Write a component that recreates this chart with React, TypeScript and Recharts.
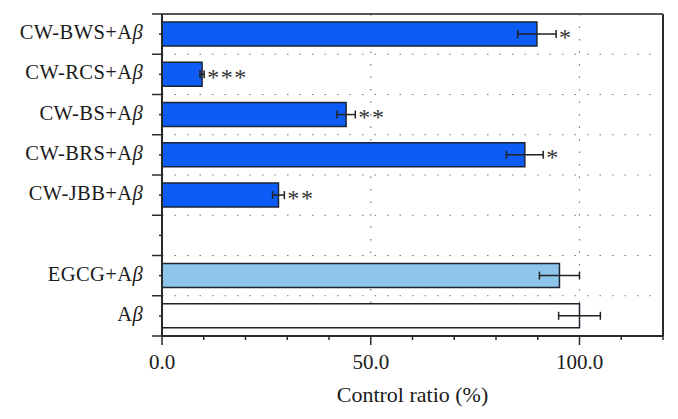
import React from "react";
import { BarChart, Bar, XAxis, YAxis, CartesianGrid, ErrorBar, LabelList, Cell, ReferenceLine } from "recharts";

const categories = ["CW-BWS+Aβ", "CW-RCS+Aβ", "CW-BS+Aβ", "CW-BRS+Aβ", "CW-JBB+Aβ", "", "EGCG+Aβ", "Aβ"];
const values: (number | null)[] = [89.8, 9.6, 44.1, 86.9, 27.9, null, 95.2, 100];
const errors: (number | null)[] = [4.6, 0.5, 2.2, 4.4, 1.4, null, 4.8, 5.0];
const stars = ["*", "***", "**", "*", "**", "", "", ""];
const groups = ["extract", "extract", "extract", "extract", "extract", "none", "positive", "control"];
const xTicks = [0, 10, 20, 30, 40, 50, 60, 70, 80, 90, 100, 110, 120];
const xLabeledTicks = [0, 50, 100];
const xGridValues = [50, 100];
const X_MAX = 120;

const groupFill: Record<string, string> = {
  extract: "#0d5cf5",
  positive: "#8ec5ea",
  control: "#ffffff",
  none: "none",
};

const data = categories.map((name, i) => ({
  name,
  value: values[i],
  err: errors[i],
  stars: stars[i],
  group: groups[i],
}));

const FONT = "'Liberation Serif', 'Times New Roman', serif";
const AXIS = "#2a2a2a";

const XTick = (props: any) => {
  const { x, y, payload } = props;
  const v = payload.value;
  const major = xLabeledTicks.includes(v);
  return (
    <g>
      <line x1={x} x2={x} y1={y} y2={y + (major ? 9 : 4)} stroke={AXIS} strokeWidth={1.5} />
      {major && (
        <text x={x} y={y + 33} textAnchor="middle" fontFamily={FONT} fontSize={21} fill="#1a1a1a">
          {v.toFixed(1)}
        </text>
      )}
    </g>
  );
};

const YTick = (props: any) => {
  const { x, y, payload, index } = props;
  const half = payload.offset || 0;
  const label: string = payload.value;
  const hasBeta = label.endsWith("β");
  const main = hasBeta ? label.slice(0, -1) : label;
  const isLast = index === categories.length - 1;
  return (
    <g>
      <line x1={x - 3} x2={x} y1={y} y2={y} stroke={AXIS} strokeWidth={1.5} />
      <line x1={x - 10} x2={x} y1={y - half} y2={y - half} stroke={AXIS} strokeWidth={1.5} />
      {isLast && <line x1={x - 10} x2={x} y1={y + half} y2={y + half} stroke={AXIS} strokeWidth={1.5} />}
      {label && (
        <text x={x - 19} y={y + 5} textAnchor="end" fontFamily={FONT} fontSize={20.5} letterSpacing={0.4} fill="#1a1a1a">
          {main}
          {hasBeta && <tspan fontStyle="italic">β</tspan>}
        </text>
      )}
    </g>
  );
};

const StarLabel = (props: any) => {
  const { x, y, width, height, index } = props;
  const d = data[index];
  if (!d || !d.stars || d.value == null || d.err == null) return null;
  const endX = x + (width * (d.value + d.err)) / d.value + 3;
  return (
    <text x={endX} y={y + height / 2 + 10.5} fontFamily={FONT} fontSize={24} letterSpacing={1.6} fill="#333">
      {d.stars}
    </text>
  );
};

export default function App() {
  return (
    <BarChart
      width={670}
      height={403}
      data={data}
      layout="vertical"
      margin={{ top: 6, right: 15, bottom: 5, left: 0 }}
      barCategoryGap="20%"
    >
      <CartesianGrid
        stroke="#777"
        strokeDasharray="1.5 11"
        strokeWidth={1.2}
        horizontalCoordinatesGenerator={({ offset }: any) =>
          categories.slice(1).map((_, i) => offset.top + (offset.height * (i + 1)) / categories.length)
        }
        verticalCoordinatesGenerator={({ offset }: any) =>
          xGridValues.map((v) => offset.left + (offset.width * v) / X_MAX)
        }
      />
      <XAxis
        type="number"
        domain={[0, X_MAX]}
        ticks={xTicks}
        interval={0}
        tick={<XTick />}
        tickLine={false}
        tickSize={0}
        tickMargin={0}
        height={70}
        axisLine={{ stroke: AXIS, strokeWidth: 2 }}
        label={{
          value: "Control ratio (%)",
          position: "insideBottom",
          offset: 4,
          fill: "#1a1a1a",
          fontSize: 22,
          fontFamily: FONT,
        }}
      />
      <YAxis
        type="category"
        dataKey="name"
        width={154}
        interval={0}
        tick={<YTick />}
        tickLine={false}
        tickSize={0}
        tickMargin={0}
        axisLine={{ stroke: AXIS, strokeWidth: 2 }}
      />
      <ReferenceLine x={X_MAX} stroke={AXIS} strokeWidth={2} />
      <ReferenceLine y={categories[0]} position="start" stroke="#555" strokeWidth={2} />
      <Bar dataKey="value" isAnimationActive={false} stroke="#1c2430" strokeWidth={1.5}>
        {data.map((d, i) => (
          <Cell key={i} fill={groupFill[d.group]} />
        ))}
        <ErrorBar dataKey="err" direction="x" width={4} stroke="#222" strokeWidth={1.5} />
        <LabelList dataKey="stars" content={<StarLabel />} />
      </Bar>
    </BarChart>
  );
}
